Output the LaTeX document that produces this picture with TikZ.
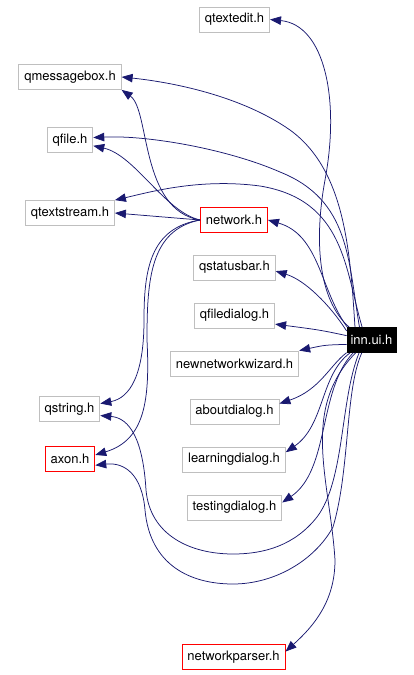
\documentclass[tikz,border=0pt]{standalone}
\usepackage{fontspec}
\setmainfont{TeX Gyre Heros}
\usetikzlibrary{arrows.meta}

\definecolor{depblue}{HTML}{191970}
\definecolor{hdrgray}{HTML}{BFBFBF}

\tikzset{
  hdr/.style={draw=hdrgray, line width=0.8pt, inner xsep=5.5pt, inner ysep=0pt,
    minimum height=25pt, font=\fontsize{13}{15}\selectfont},
  hdrred/.style={hdr, draw=red},
  hdrmain/.style={hdr, draw=black, fill=black, text=white, inner xsep=3.5pt},
  dep/.style={draw=depblue, line width=0.75pt, -{Triangle[length=11pt,width=8.5pt]}}
}

\begin{document}
\begin{tikzpicture}[x=1pt, y=-1pt]
  \useasboundingbox (0,0) rectangle (414,675);

  % headers
  \node[hdr]     (qtextedit)        at (234.5,19.5)  {qtextedit.h};
  \node[hdr]     (qmessagebox)      at (70,77)       {qmessagebox.h};
  \node[hdr]     (qfile)            at (70,140)      {qfile.h};
  \node[hdr]     (qtextstream)      at (70,213)      {qtextstream.h};
  \node[hdrred]  (network)          at (234,220)     {network.h};
  \node[hdr]     (qstatusbar)       at (234.5,267.5) {qstatusbar.h};
  \node[hdr]     (qfiledialog)      at (234.5,315.5) {qfiledialog.h};
  \node[hdr]     (newnetworkwizard) at (234.5,363.5) {newnetworkwizard.h};
  \node[hdrmain] (inn)              at (371.5,340)   {inn.ui.h};
  \node[hdr]     (qstring)          at (69.5,409)    {qstring.h};
  \node[hdr]     (aboutdialog)      at (234.5,411.5) {aboutdialog.h};
  \node[hdrred]  (axon)             at (70,458.5)    {axon.h};
  \node[hdr]     (learningdialog)   at (234,459.5)   {learningdialog.h};
  \node[hdr]     (testingdialog)    at (234.5,507.5) {testingdialog.h};
  \node[hdrred]  (networkparser)    at (233.5,657)   {networkparser.h};

  % inn.ui.h includes
  \draw[dep] (inn.150) .. controls (318,300) and (314,240) .. (325,180)
    .. controls (340,100) and (325,25) .. (qtextedit.east);
  \draw[dep] (inn.142) .. controls (350,250) and (345,170) .. (290,130)
    .. controls (240,95) and (170,82) .. (qmessagebox.east);
  \draw[dep] (inn.133) .. controls (348,260) and (350,200) .. (280,172)
    .. controls (230,150) and (150,135) .. (qfile.6);
  \draw[dep] (inn.126) .. controls (345,270) and (345,200) .. (260,186)
    .. controls (200,178) and (150,192) .. (qtextstream.north east);
  \draw[dep] (inn.152) .. controls (320,290) and (320,235) .. (network.east);
  \draw[dep] (inn.160) .. controls (330,305) and (305,280) .. (qstatusbar.-5);
  \draw[dep] (inn.170) .. controls (320,330) .. (qfiledialog.-12);
  \draw[dep] (inn.190) .. controls (325,345) .. (newnetworkwizard.north east);
  \draw[dep] (inn.207) .. controls (330,365) and (320,390) .. (aboutdialog.10);
  \draw[dep] (inn.211) .. controls (320,375) and (325,425) .. (learningdialog.8);
  \draw[dep] (inn.215) .. controls (318,390) and (330,470) .. (testingdialog.6);
  \draw[dep] (inn.219) .. controls (300,410) and (330,480) .. (335,560)
    .. controls (335,600) and (315,625) .. (networkparser.6);
  \draw[dep] (inn.226) .. controls (340,400) and (345,480) .. (317,517)
    .. controls (295,545) and (265,554) .. (233,554)
    .. controls (190,554) and (150,535) .. (146,490)
    .. controls (143,440) and (130,418) .. (qstring.-12);
  \draw[dep] (inn.233) .. controls (345,390) and (350,470) .. (333,527)
    .. controls (315,560) and (275,584) .. (233,584)
    .. controls (190,584) and (150,565) .. (145,510)
    .. controls (142,475) and (125,462) .. (axon.-15);

  % network.h includes
  \draw[dep] (network.west) .. controls (140,210) and (150,110) .. (qmessagebox.south east);
  \draw[dep] (network.west) .. controls (165,212) and (135,155) .. (qfile.-14);
  \draw[dep] (network.west) -- (qtextstream.east);
  \draw[dep] (network.west) .. controls (150,228) and (144,270) .. (144,320)
    .. controls (144,375) and (130,398) .. (qstring.10);
  \draw[dep] (network.west) .. controls (150,230) and (147,280) .. (147,340)
    .. controls (150,400) and (145,440) .. (axon.8);
\end{tikzpicture}
\end{document}
